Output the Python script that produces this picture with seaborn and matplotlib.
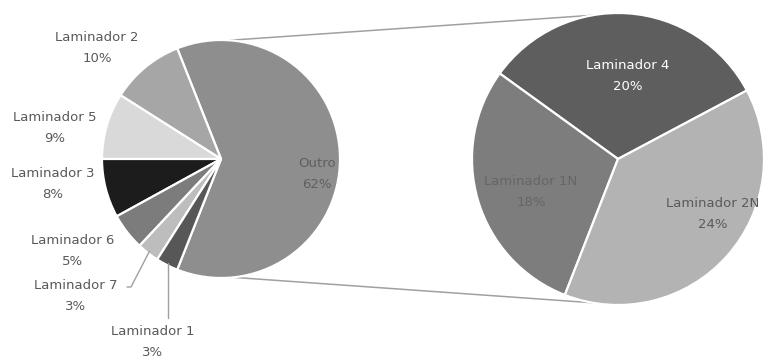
import numpy as np
import matplotlib
matplotlib.use("Agg")
import matplotlib.pyplot as plt
import seaborn as sns

# Main pie: share of each rolling mill, "Outro" expanded on the right
main_labels = ["Outro", "Laminador 2", "Laminador 5", "Laminador 3",
               "Laminador 6", "Laminador 7", "Laminador 1"]
main_values = [62, 10, 9, 8, 5, 3, 3]
main_colors = ["#8e8e8e", "#a6a6a6", "#d9d9d9", "#1c1c1c",
               "#7c7c7c", "#bdbdbd", "#575757"]

# Breakdown of "Outro"
sub_labels = ["Laminador 4", "Laminador 1N", "Laminador 2N"]
sub_values = [20, 18, 24]
sub_colors = ["#5e5e5e", "#7d7d7d", "#b3b3b3"]

sns.set_theme(style="white")
plt.rcParams["font.family"] = ["DejaVu Sans"]

W, H = 765, 359
fig = plt.figure(figsize=(W / 100, H / 100), dpi=100)
ax = fig.add_axes([0, 0, 1, 1])

text_color = "#595959"
edge = dict(edgecolor="white", linewidth=1.6)

# left pie geometry (pixel units, y up)
c1, r1 = (221, 200), 119
# right pie geometry
c2, r2 = (618, 200), 146

start1 = -main_values[0] / sum(main_values) * 360 / 2
w1, _ = ax.pie(main_values, colors=main_colors, center=c1, radius=r1,
               startangle=start1, counterclock=True, wedgeprops=edge)
w2, _ = ax.pie(sub_values, colors=sub_colors, center=c2, radius=r2,
               startangle=28, counterclock=True, wedgeprops=edge)


def on_circle(c, r, ang):
    a = np.deg2rad(ang)
    return c[0] + r * np.cos(a), c[1] + r * np.sin(a)


# connector lines between the two pies
for a1, a2 in [(86, 100), (-84, -100)]:
    p = on_circle(c1, r1, a1)
    q = on_circle(c2, r2, a2)
    ax.plot([p[0], q[0]], [p[1], q[1]], color="#a0a0a0", lw=1.1,
            solid_capstyle="round", zorder=0)

fs = 9.5
ls = 1.75

# label anchor positions for the main pie (pixel units, y up)
main_pos = [(317, 185), (97, 311), (55, 231), (53, 175),
            (73, 108), (76, 63), (153, 17)]
for lab, val, pos in zip(main_labels, main_values, main_pos):
    ax.text(pos[0], pos[1], f"{lab}\n{val}%", ha="center", va="center",
            fontsize=fs, color=text_color if lab != "Outro" else "#5f5f5f",
            linespacing=ls)

# leader lines for the two thin slices
wedge_mid = {}
for wd, lab in zip(w1, main_labels):
    wedge_mid[lab] = (wd.theta1 + wd.theta2) / 2
p = on_circle(c1, r1 * 0.98, wedge_mid["Laminador 7"])
ax.plot([127, 131, p[0]], [72, 72, p[1]], color="#a0a0a0", lw=1)
p = on_circle(c1, r1 * 0.98, wedge_mid["Laminador 1"])
ax.plot([p[0], p[0]], [p[1], 41], color="#a0a0a0", lw=1)

sub_pos = [(628, 283), (531, 167), (713, 145)]
sub_text = ["white", "#666666", "#5a5a5a"]
for lab, val, pos, tc in zip(sub_labels, sub_values, sub_pos, sub_text):
    ax.text(pos[0], pos[1], f"{lab}\n{val}%", ha="center", va="center",
            fontsize=fs, color=tc, linespacing=ls)

ax.set_xlim(0, W)
ax.set_ylim(0, H)
ax.set_aspect("auto")
ax.axis("off")

fig.savefig("out.png", dpi=100, facecolor="white")
